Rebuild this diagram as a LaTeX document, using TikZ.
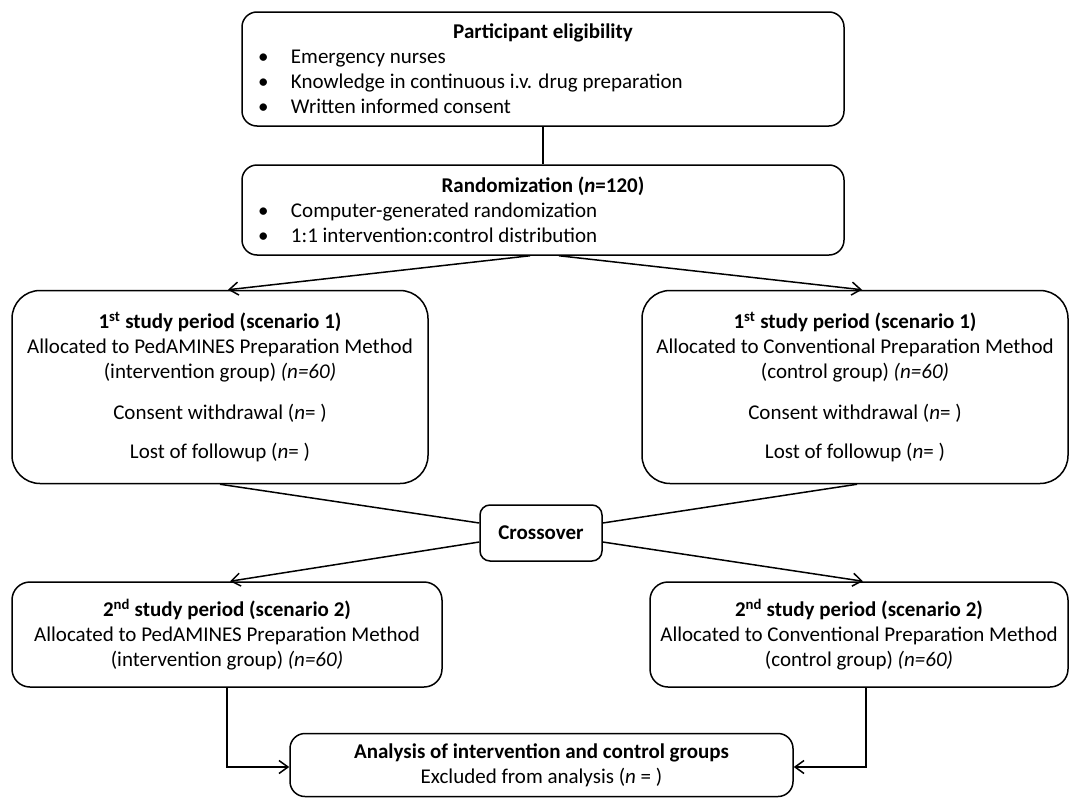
\documentclass[tikz,border=0pt]{standalone}
\usepackage{fontspec}
\setmainfont{Carlito}
\usetikzlibrary{arrows.meta,positioning}
\newcommand{\bitem}[1]{\par\noindent\makebox[33pt][l]{\textbullet}#1}

\begin{document}
\begin{tikzpicture}[
    x=1pt, y=-1pt,
    line width=1.5pt,
    font=\fontsize{21}{25}\selectfont,
    listbox/.style={rectangle, rounded corners=15pt, draw=black, inner xsep=16pt, inner ysep=2pt, text width=570pt, minimum width=602pt, align=flush left},
    periodbox/.style={rectangle, rounded corners=28pt, draw=black, inner sep=4pt, align=center, minimum height=193pt},
    secondbox/.style={rectangle, rounded corners=18pt, draw=black, inner sep=4pt, align=center, minimum height=105pt},
    crossbox/.style={rectangle, rounded corners=10pt, draw=black, minimum width=122pt, minimum height=56pt, font=\fontsize{21}{25}\selectfont\bfseries},
    arrow/.style={-{Straight Barb[length=9pt,width=13pt]}}
]
\useasboundingbox (0,0) rectangle (1069,798);
% Eligibility and randomization
\node[listbox, minimum height=114pt] (elig) at (543,69) {{\centering\textbf{Participant eligibility}\par}\bitem{Emergency nurses}\bitem{Knowledge in continuous i.v. drug preparation}\bitem{Written informed consent}};
\node[listbox, minimum height=90pt] (rand) at (543,210) {{\centering\textbf{Randomization (\textit{n}=120)}\par}\bitem{Computer-generated randomization}\bitem{1:1 intervention:control distribution}};
% First study period
\node[periodbox, minimum width=416pt] (firstA) at (220,387) {\textbf{1\textsuperscript{st} study period (scenario 1)}\\Allocated to PedAMINES Preparation Method\\(intervention group) \textit{(n=60)}\\[16pt]Consent withdrawal (\textit{n}= )\\[14pt]Lost of followup (\textit{n}= )};
\node[periodbox, minimum width=426pt] (firstB) at (855,387) {\textbf{1\textsuperscript{st} study period (scenario 1)}\\Allocated to Conventional Preparation Method\\(control group) \textit{(n=60)}\\[16pt]Consent withdrawal (\textit{n}= )\\[14pt]Lost of followup (\textit{n}= )};
% Crossover
\node[crossbox] (cross) at (541,533) {Crossover};
% Second study period
\node[secondbox, minimum width=430pt] (secondA) at (227,634.5) {\textbf{2\textsuperscript{nd} study period (scenario 2)}\\Allocated to PedAMINES Preparation Method\\(intervention group) \textit{(n=60)}};
\node[secondbox, minimum width=418pt] (secondB) at (859,634.5) {\textbf{2\textsuperscript{nd} study period (scenario 2)}\\Allocated to Conventional Preparation Method\\(control group) \textit{(n=60)}};
% Analysis
\node[rectangle, rounded corners=15pt, draw=black, align=center, minimum width=503pt, minimum height=63pt, inner sep=2pt] (analysis) at (541.5,765) {\textbf{Analysis of intervention and control groups}\\Excluded from analysis (\textit{n} = )};
% Arrows
\draw (elig) -- (rand);
\draw[arrow] ([xshift=-13pt]rand.south) -- ([xshift=8pt]firstA.north);
\draw[arrow] ([xshift=16pt]rand.south) -- ([xshift=7pt]firstB.north);
\draw (firstA.south) -- ([yshift=10pt]cross.west);
\draw ([xshift=2pt]firstB.south) -- ([yshift=10pt]cross.east);
\draw[arrow] ([yshift=-9pt]cross.west) -- ([xshift=3pt]secondA.north);
\draw[arrow] ([yshift=-9pt]cross.east) -- ([xshift=4pt]secondB.north);
\draw[arrow] (secondA.south) |- ([yshift=-2pt]analysis.west);
\draw[arrow] ([xshift=7pt]secondB.south) |- ([yshift=-2pt]analysis.east);
\end{tikzpicture}
\end{document}
